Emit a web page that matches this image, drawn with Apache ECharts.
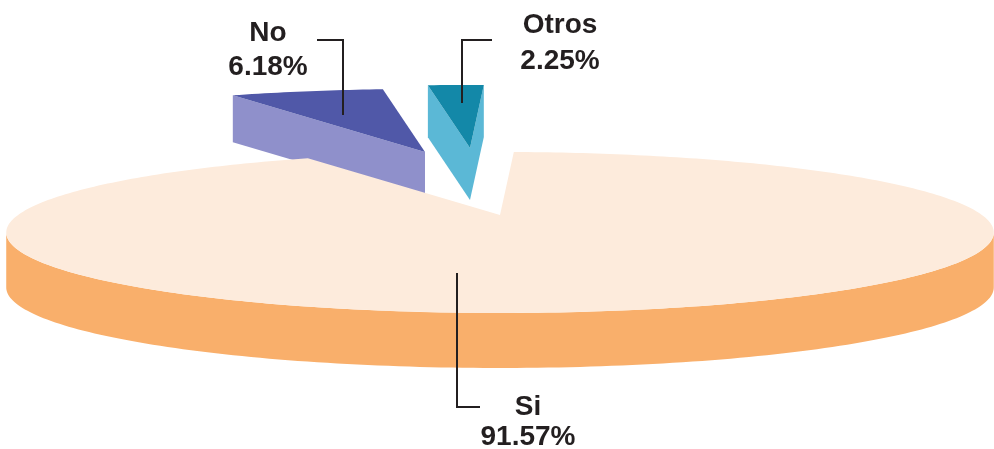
<!DOCTYPE html>
<html><head><meta charset="utf-8">
<script src="https://cdn.jsdelivr.net/npm/echarts@6/dist/echarts.min.js"></script>
<style>html,body{margin:0;padding:0;background:#fff}#main{width:994px;height:449px}</style>
</head><body><div id="main"></div>
<script>
// Slices, laid out from the back of the pie turning left
const categories = ['Otros', 'No', 'Si'];
const values = [2.25, 6.18, 91.57];
const shareLabels = ['2.25%', '6.18%', '91.57%'];

// projection of the 3D pie
const view = { cx: 500, cy: 215, A: 482, B: 76.7, k: 0.217, startAngle: -2 };

// per slice look (colours, explosion, label layout)
const styles = {
  Otros: { top: '#1388a8', wall: '#5bb8d6', depth: 52, explode: [-30, -67],
           anchor: [-8, -45], legV: -63, legH: 30, textDx: 98, base1: -5, base2: 31 },
  No:    { top: '#5058a8', wall: '#8f90cb', depth: 47, explode: [-75, -63],
           anchor: [-82, -37], legV: -75, legH: -26, textDx: -75, base1: 3, base2: 37 },
  Si:    { top: '#fdebdc', wall: '#f9af6b', depth: 55, explode: [0, 0],
           anchor: [-43, 58], legV: 134, legH: 23, textDx: 71, base1: 10, base2: 40 }
};

const FONT = '700 28px "Liberation Sans", Arial, sans-serif';

function dir(phi) { const r = phi * Math.PI / 180; return [-Math.sin(r), -Math.cos(r)]; }
function proj(c, u, v, z) {
  const w = 1 - view.k * v;
  return [c[0] + view.A * u / w, c[1] + view.B * v / w + z];
}

function renderItem(params, api) {
  const i = params.dataIndex;
  const total = values.reduce((a, b) => a + b, 0);
  let before = 0;
  for (let j = 0; j < i; j++) before += values[j];
  const a0 = view.startAngle + before / total * 360;
  const a1 = a0 + api.value(0) / total * 360;
  const st = styles[categories[i]];
  const c = [view.cx + st.explode[0], view.cy + st.explode[1]];
  const rim = (phi, z) => { const d = dir(phi); return proj(c, d[0], d[1], z); };
  const arc = (s, e, z) => {
    const n = Math.max(2, Math.ceil(Math.abs(e - s)));
    const pts = [];
    for (let t = 0; t <= n; t++) pts.push(rim(s + (e - s) * t / n, z));
    return pts;
  };
  const children = [];
  // outer wall, only the part facing the viewer
  const lim = Math.acos(-view.k) * 180 / Math.PI;
  for (let n = -1; n <= 1; n++) {
    const s = Math.max(a0, lim + 360 * n), e = Math.min(a1, 360 - lim + 360 * n);
    if (e > s) {
      const pts = arc(s, e, 0).concat(arc(e, s, st.depth));
      children.push({ type: 'polygon', shape: { points: pts }, style: { fill: st.wall } });
    }
  }
  // radial walls facing the viewer
  const radial = (phi) => {
    const r0 = proj(c, 0, 0, 0), r1 = rim(phi, 0), r2 = rim(phi, st.depth), r3 = proj(c, 0, 0, st.depth);
    children.push({ type: 'polygon', shape: { points: [r0, r1, r2, r3] }, style: { fill: st.wall } });
  };
  if (Math.sin(a0 * Math.PI / 180) < 0) radial(a0);
  if (Math.sin(a1 * Math.PI / 180) > 0) radial(a1);
  // top face
  const topPts = [proj(c, 0, 0, 0)].concat(arc(a0, a1, 0));
  children.push({ type: 'polygon', shape: { points: topPts }, style: { fill: st.top } });
  // leader line and label
  const p0 = [c[0] + st.anchor[0], c[1] + st.anchor[1]];
  const p1 = [p0[0], p0[1] + st.legV];
  const p2 = [p1[0] + st.legH, p1[1]];
  children.push({ type: 'polyline', shape: { points: [p0, p1, p2] },
                  style: { stroke: '#231f20', lineWidth: 2, fill: null } });
  children.push({ type: 'text', style: { text: categories[i], x: p1[0] + st.textDx, y: p1[1] + st.base1 - 10,
                  font: FONT, fill: '#231f20', align: 'center', verticalAlign: 'middle' } });
  children.push({ type: 'text', style: { text: shareLabels[i], x: p1[0] + st.textDx, y: p1[1] + st.base2 - 10,
                  font: FONT, fill: '#231f20', align: 'center', verticalAlign: 'middle' } });
  return { type: 'group', children };
}

const chart = echarts.init(document.getElementById('main'), null, { renderer: 'canvas' });
chart.setOption({
  animation: false,
  backgroundColor: '#ffffff',
  series: [{
    type: 'custom',
    coordinateSystem: 'none',
    renderItem: renderItem,
    data: values.map((v, i) => ({ name: categories[i], value: [v] }))
  }]
});
</script>
</body></html>
